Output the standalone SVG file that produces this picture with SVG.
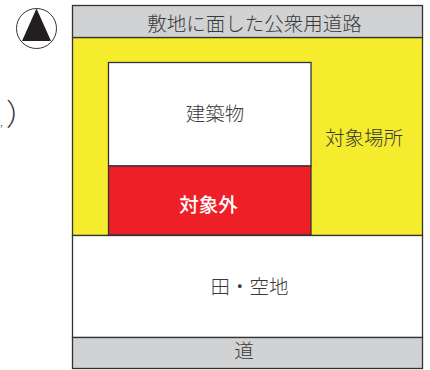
<svg xmlns="http://www.w3.org/2000/svg" width="430" height="370" viewBox="0 0 430 370">
<style>
.b{stroke:#333;stroke-width:1.3}
.t{font-family:"Noto Sans CJK JP","Liberation Sans",sans-serif;font-size:19.500px;font-weight:300;fill:#3a3a3a;text-anchor:middle}
.p{font-family:"Noto Sans CJK JP",sans-serif;font-weight:300;fill:#333}
</style>
<rect width="430" height="370" fill="#fff"/>
<g id="north">
<circle cx="36.500" cy="28.500" r="20" fill="#fff" stroke="#333" stroke-width="1"/>
<polygon points="36.500,8.500 51,41 22,41" fill="#231f20"/>
</g>
<g id="paren"><text class="p" x="0" y="126" font-size="11">,</text><text class="p" x="6" y="125" font-size="30">）</text></g>
<g id="site"><rect class="b" x="72.500" y="37.500" width="350" height="198" fill="#f5ec2e"/><text class="t" x="364" y="145">対象場所</text></g>
<g id="road-top"><rect class="b" x="72.500" y="5.500" width="350" height="32" fill="#d1d2d4"/><text class="t" x="254.500" y="31">敷地に面した公衆用道路</text></g>
<g id="building"><rect class="b" x="108.500" y="62.500" width="202.500" height="103.500" fill="#fff"/><text class="t" x="215" y="121">建築物</text></g>
<g id="excluded"><rect class="b" x="108.500" y="166" width="202.500" height="69" fill="#ee1f26"/><text class="t" x="208.500" y="212" style="fill:#fff;font-weight:500">対象外</text></g>
<g id="field"><rect class="b" x="72.500" y="235.500" width="350" height="102" fill="#fff"/><text class="t" x="249.500" y="294">田・空地</text></g>
<g id="road-bottom"><rect class="b" x="72.500" y="337.500" width="350" height="31" fill="#d1d2d4"/><text class="t" x="244" y="358">道</text></g>
<g id="connectors"/>
</svg>
